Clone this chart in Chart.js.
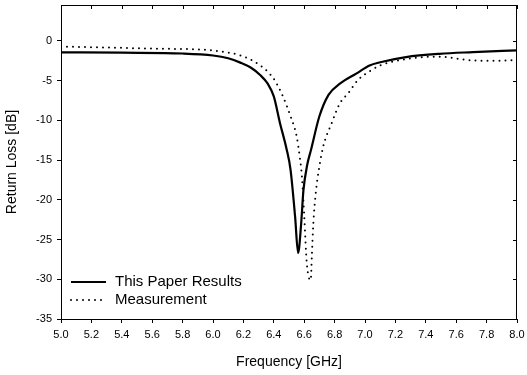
<!DOCTYPE html>
<html>
<head>
<meta charset="utf-8">
<script src="https://cdn.jsdelivr.net/npm/chart.js@4/dist/chart.umd.min.js"></script>
<style>
  body { margin: 0; background: #fff; }
  canvas { display: block; }
</style>
</head>
<body>
<canvas id="myChart" width="527" height="375"></canvas>
<script>
// Simulated curve ("This Paper Results")
const simFreq = [5.0, 5.4, 5.8, 6.0, 6.1, 6.18, 6.25, 6.31, 6.36, 6.40, 6.44, 6.485, 6.51, 6.54, 6.56,
  6.58, 6.595, 6.62, 6.645, 6.70, 6.76, 6.835, 6.945, 7.03, 7.10, 7.27, 7.49, 7.71, 8.0];
const simLoss = [-1.45, -1.5, -1.6, -1.85, -2.2, -2.75, -3.4, -4.3, -5.4, -7.0, -10.3, -13.7, -16.2, -22.1, -26.7,
  -23.0, -18.8, -15.6, -13.7, -9.5, -6.8, -5.4, -4.1, -3.1, -2.7, -2.05, -1.64, -1.43, -1.2];

// Measured curve
const measFreq = [5.0, 5.3, 5.65, 5.91, 6.05, 6.18, 6.31, 6.40, 6.46, 6.51, 6.55, 6.57, 6.585, 6.6, 6.617, 6.643,
  6.65, 6.66, 6.678, 6.70, 6.725, 6.78, 6.835, 6.89, 6.955, 7.04, 7.10, 7.27, 7.45, 7.54, 7.62, 7.76, 7.9, 8.0];
const measLoss = [-0.72, -0.85, -1.0, -1.1, -1.35, -1.85, -3.1, -4.8, -7.0, -9.5, -12.0, -14.5, -17.1, -22.0, -28.0, -30.1,
  -27.2, -23.0, -18.8, -15.8, -13.3, -10.4, -7.85, -6.6, -4.9, -3.74, -3.1, -2.3, -2.0, -2.05, -2.3, -2.5, -2.5, -2.4];

const seriesNames = ["This Paper Results", "Measurement"];

const toPoints = (xs, ys) => xs.map((x, i) => ({ x: x, y: ys[i] }));

// frame with inward ticks on top/right + legend inside the plot
const framePlugin = {
  id: "frame",
  afterDraw(chart) {
    const ctx = chart.ctx;
    const a = chart.chartArea;
    const xs = chart.scales.x, ys = chart.scales.y;
    ctx.save();
    ctx.strokeStyle = "#000";
    ctx.lineWidth = 1;
    ctx.strokeRect(a.left + 0.5, a.top + 0.5, a.right - a.left - 1, a.bottom - a.top);
    ctx.beginPath();
    xs.ticks.forEach(t => {
      const px = Math.round(xs.getPixelForValue(t.value)) + 0.5;
      ctx.moveTo(px, a.top);
      ctx.lineTo(px, a.top + 4);
    });
    ys.ticks.forEach(t => {
      const py = Math.round(ys.getPixelForValue(t.value)) + 0.5;
      ctx.moveTo(a.right, py);
      ctx.lineTo(a.right - 4, py);
    });
    ctx.stroke();

    // legend
    const lx = a.left + 10, rowY = [a.bottom - 37, a.bottom - 19];
    ctx.font = "15px 'Liberation Sans', Arial, sans-serif";
    ctx.fillStyle = "#000";
    ctx.textBaseline = "middle";
    chart.data.datasets.forEach((ds, i) => {
      ctx.beginPath();
      ctx.lineWidth = ds.borderWidth;
      ctx.lineCap = ds.borderCapStyle || "butt";
      ctx.setLineDash(ds.borderDash || []);
      ctx.moveTo(lx, rowY[i]);
      ctx.lineTo(lx + 35, rowY[i]);
      ctx.stroke();
      ctx.setLineDash([]);
      ctx.fillText(seriesNames[i], lx + 44, rowY[i]);
    });
    ctx.restore();
  },
};

const ctx = document.getElementById("myChart").getContext("2d");
new Chart(ctx, {
  type: "line",
  data: {
    datasets: [
      {
        label: seriesNames[0],
        data: toPoints(simFreq, simLoss),
        borderColor: "#000",
        borderWidth: 2.2,
        pointRadius: 0,
        cubicInterpolationMode: "monotone",
        fill: false,
      },
      {
        label: seriesNames[1],
        data: toPoints(measFreq, measLoss),
        borderColor: "#000",
        borderWidth: 2,
        borderDash: [0, 6],
        borderCapStyle: "round",
        pointRadius: 0,
        cubicInterpolationMode: "monotone",
        fill: false,
      },
    ],
  },
  options: {
    responsive: false,
    animation: false,
    layout: { padding: { top: 5, right: 10, left: 0, bottom: 0 } },
    plugins: { legend: { display: false }, tooltip: { enabled: false } },
    scales: {
      x: {
        type: "linear",
        min: 5,
        max: 8,
        afterFit: s => { s.height = 56; s.paddingLeft = 0; s.paddingRight = 0; },
        ticks: {
          stepSize: 0.2,
          padding: 5,
          color: "#000",
          maxRotation: 0,
          font: { family: "'Liberation Sans', Arial, sans-serif", size: 11 },
          callback: v => Number(v).toFixed(1),
        },
        grid: { drawOnChartArea: false, tickLength: 4, color: "#000" },
        border: { color: "#000" },
        title: {
          display: true,
          text: "Frequency [GHz]",
          color: "#000",
          font: { family: "'Liberation Sans', Arial, sans-serif", size: 14 },
          padding: { top: 0, bottom: 4 },
        },
      },
      y: {
        min: -35,
        max: 4.5,
        afterFit: s => { s.width = 61; s.paddingTop = 0; s.paddingBottom = 0; },
        afterBuildTicks: s => { s.ticks = s.ticks.filter(t => t.value <= 0); },
        ticks: {
          stepSize: 5,
          padding: 5,
          color: "#000",
          font: { family: "'Liberation Sans', Arial, sans-serif", size: 11 },
        },
        grid: { drawOnChartArea: false, tickLength: 4, color: "#000" },
        border: { color: "#000" },
        title: {
          display: true,
          text: "Return Loss [dB]",
          color: "#000",
          font: { family: "'Liberation Sans', Arial, sans-serif", size: 14 },
          padding: { top: 4, bottom: 0 },
        },
      },
    },
  },
  plugins: [framePlugin],
});
</script>
</body>
</html>
